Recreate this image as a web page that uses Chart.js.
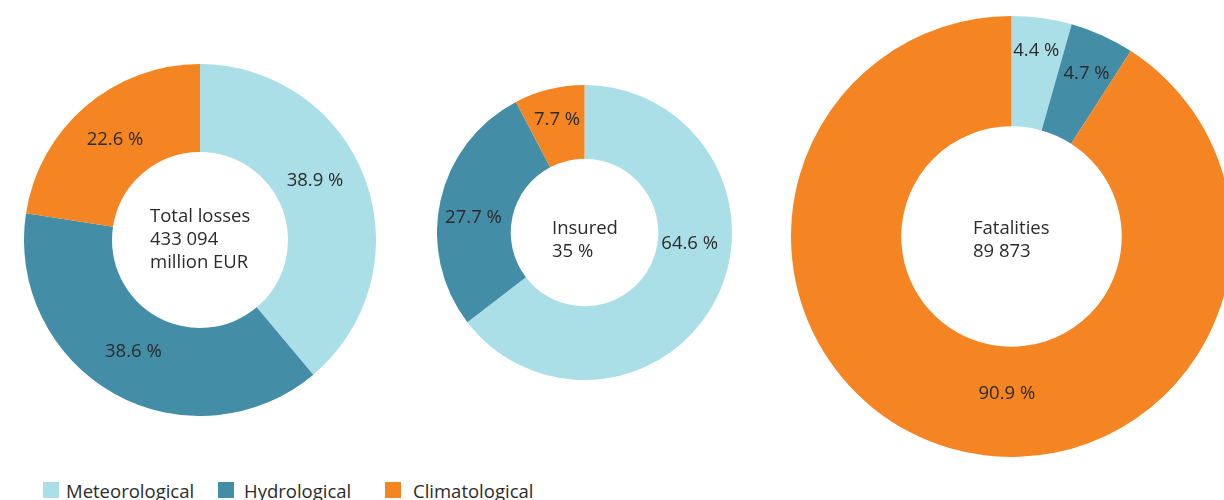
<!DOCTYPE html>
<html>
<head>
<meta charset="utf-8">
<script src="https://cdn.jsdelivr.net/npm/chart.js@4"></script>
<style>
  html, body { margin: 0; padding: 0; background: #fff; }
  #page { position: relative; width: 1224px; height: 500px; overflow: hidden; font-family: "Open Sans", sans-serif; color: #2b2b2b; }
  canvas { position: absolute; }
  .centre { position: absolute; font-size: 18.5px; line-height: 23px; color: #2b2b2b; }
  .item { position: absolute; top: 478px; font-size: 18.5px; white-space: nowrap; }
  .box { position: absolute; top: 4px; left: 0; width: 16px; height: 16px; }
  .name { position: absolute; top: 0; }
</style>
</head>
<body>
<div id="page">
  <canvas id="totalLosses" style="left:24px; top:64px;"></canvas>
  <canvas id="insured" style="left:437px; top:85px;"></canvas>
  <canvas id="fatalities" style="left:791px; top:16px;"></canvas>

  <div class="centre" style="left:150px; top:203px;">Total losses<br>433 094<br>million EUR</div>
  <div class="centre" style="left:552px; top:215px;">Insured<br>35 %</div>
  <div class="centre" style="left:973px; top:215px;">Fatalities<br>89 873</div>
</div>

<script>
// hazard categories and their colours
const categories = ["Meteorological", "Hydrological", "Climatological"];
const colours = ["#abdfe8", "#438da7", "#f58523"];

// shares in percent, clockwise from the top
const totalLossShares = [38.9, 38.6, 22.6];
const insuredShares = [64.6, 27.7, 7.7];
const fatalityShares = [4.4, 4.7, 90.9];

// nudges for the value labels, relative to the middle of each ring segment
const totalLossLabelShift = [[-9, -14], [-2, -3], [1, 0]];
const insuredLabelShift = [[6, -38], [-3, 9], [-1, -5]];
const fatalityLabelShift = [[2, -22], [7, -12], [42, -1]];

// legend layout: swatch x and text indent
const legendX = [43, 218, 385];
const legendIndent = [23, 26, 28];

const valueLabels = {
  id: "valueLabels",
  afterDatasetsDraw(chart, args, opts) {
    const ctx = chart.ctx;
    const meta = chart.getDatasetMeta(0);
    const values = chart.data.datasets[0].data;
    ctx.save();
    ctx.font = '18.5px "Open Sans", sans-serif';
    ctx.fillStyle = "#2b2b2b";
    ctx.textAlign = "center";
    ctx.textBaseline = "middle";
    meta.data.forEach((arc, i) => {
      const p = arc.tooltipPosition();
      const s = opts.shift[i] || [0, 0];
      ctx.fillText(values[i].toFixed(1) + " %", p.x + s[0], p.y + s[1]);
    });
    ctx.restore();
  }
};

function doughnut(id, size, values, shift) {
  const el = document.getElementById(id);
  el.width = size;
  el.height = size;
  return new Chart(el, {
    type: "doughnut",
    data: {
      labels: categories,
      datasets: [{
        data: values,
        backgroundColor: colours,
        borderWidth: 0
      }]
    },
    options: {
      responsive: false,
      animation: false,
      cutout: "50%",
      layout: { padding: 0 },
      plugins: {
        legend: { display: false },
        tooltip: { enabled: false },
        valueLabels: { shift: shift }
      }
    },
    plugins: [valueLabels]
  });
}

doughnut("totalLosses", 352, totalLossShares, totalLossLabelShift);
doughnut("insured", 295, insuredShares, insuredLabelShift);
doughnut("fatalities", 441, fatalityShares, fatalityLabelShift);

// legend row
const page = document.getElementById("page");
categories.forEach((name, i) => {
  const item = document.createElement("div");
  item.className = "item";
  item.style.left = legendX[i] + "px";
  const box = document.createElement("span");
  box.className = "box";
  box.style.background = colours[i];
  const text = document.createElement("span");
  text.className = "name";
  text.style.left = legendIndent[i] + "px";
  text.textContent = name;
  item.appendChild(box);
  item.appendChild(text);
  page.appendChild(item);
});
</script>
</body>
</html>
